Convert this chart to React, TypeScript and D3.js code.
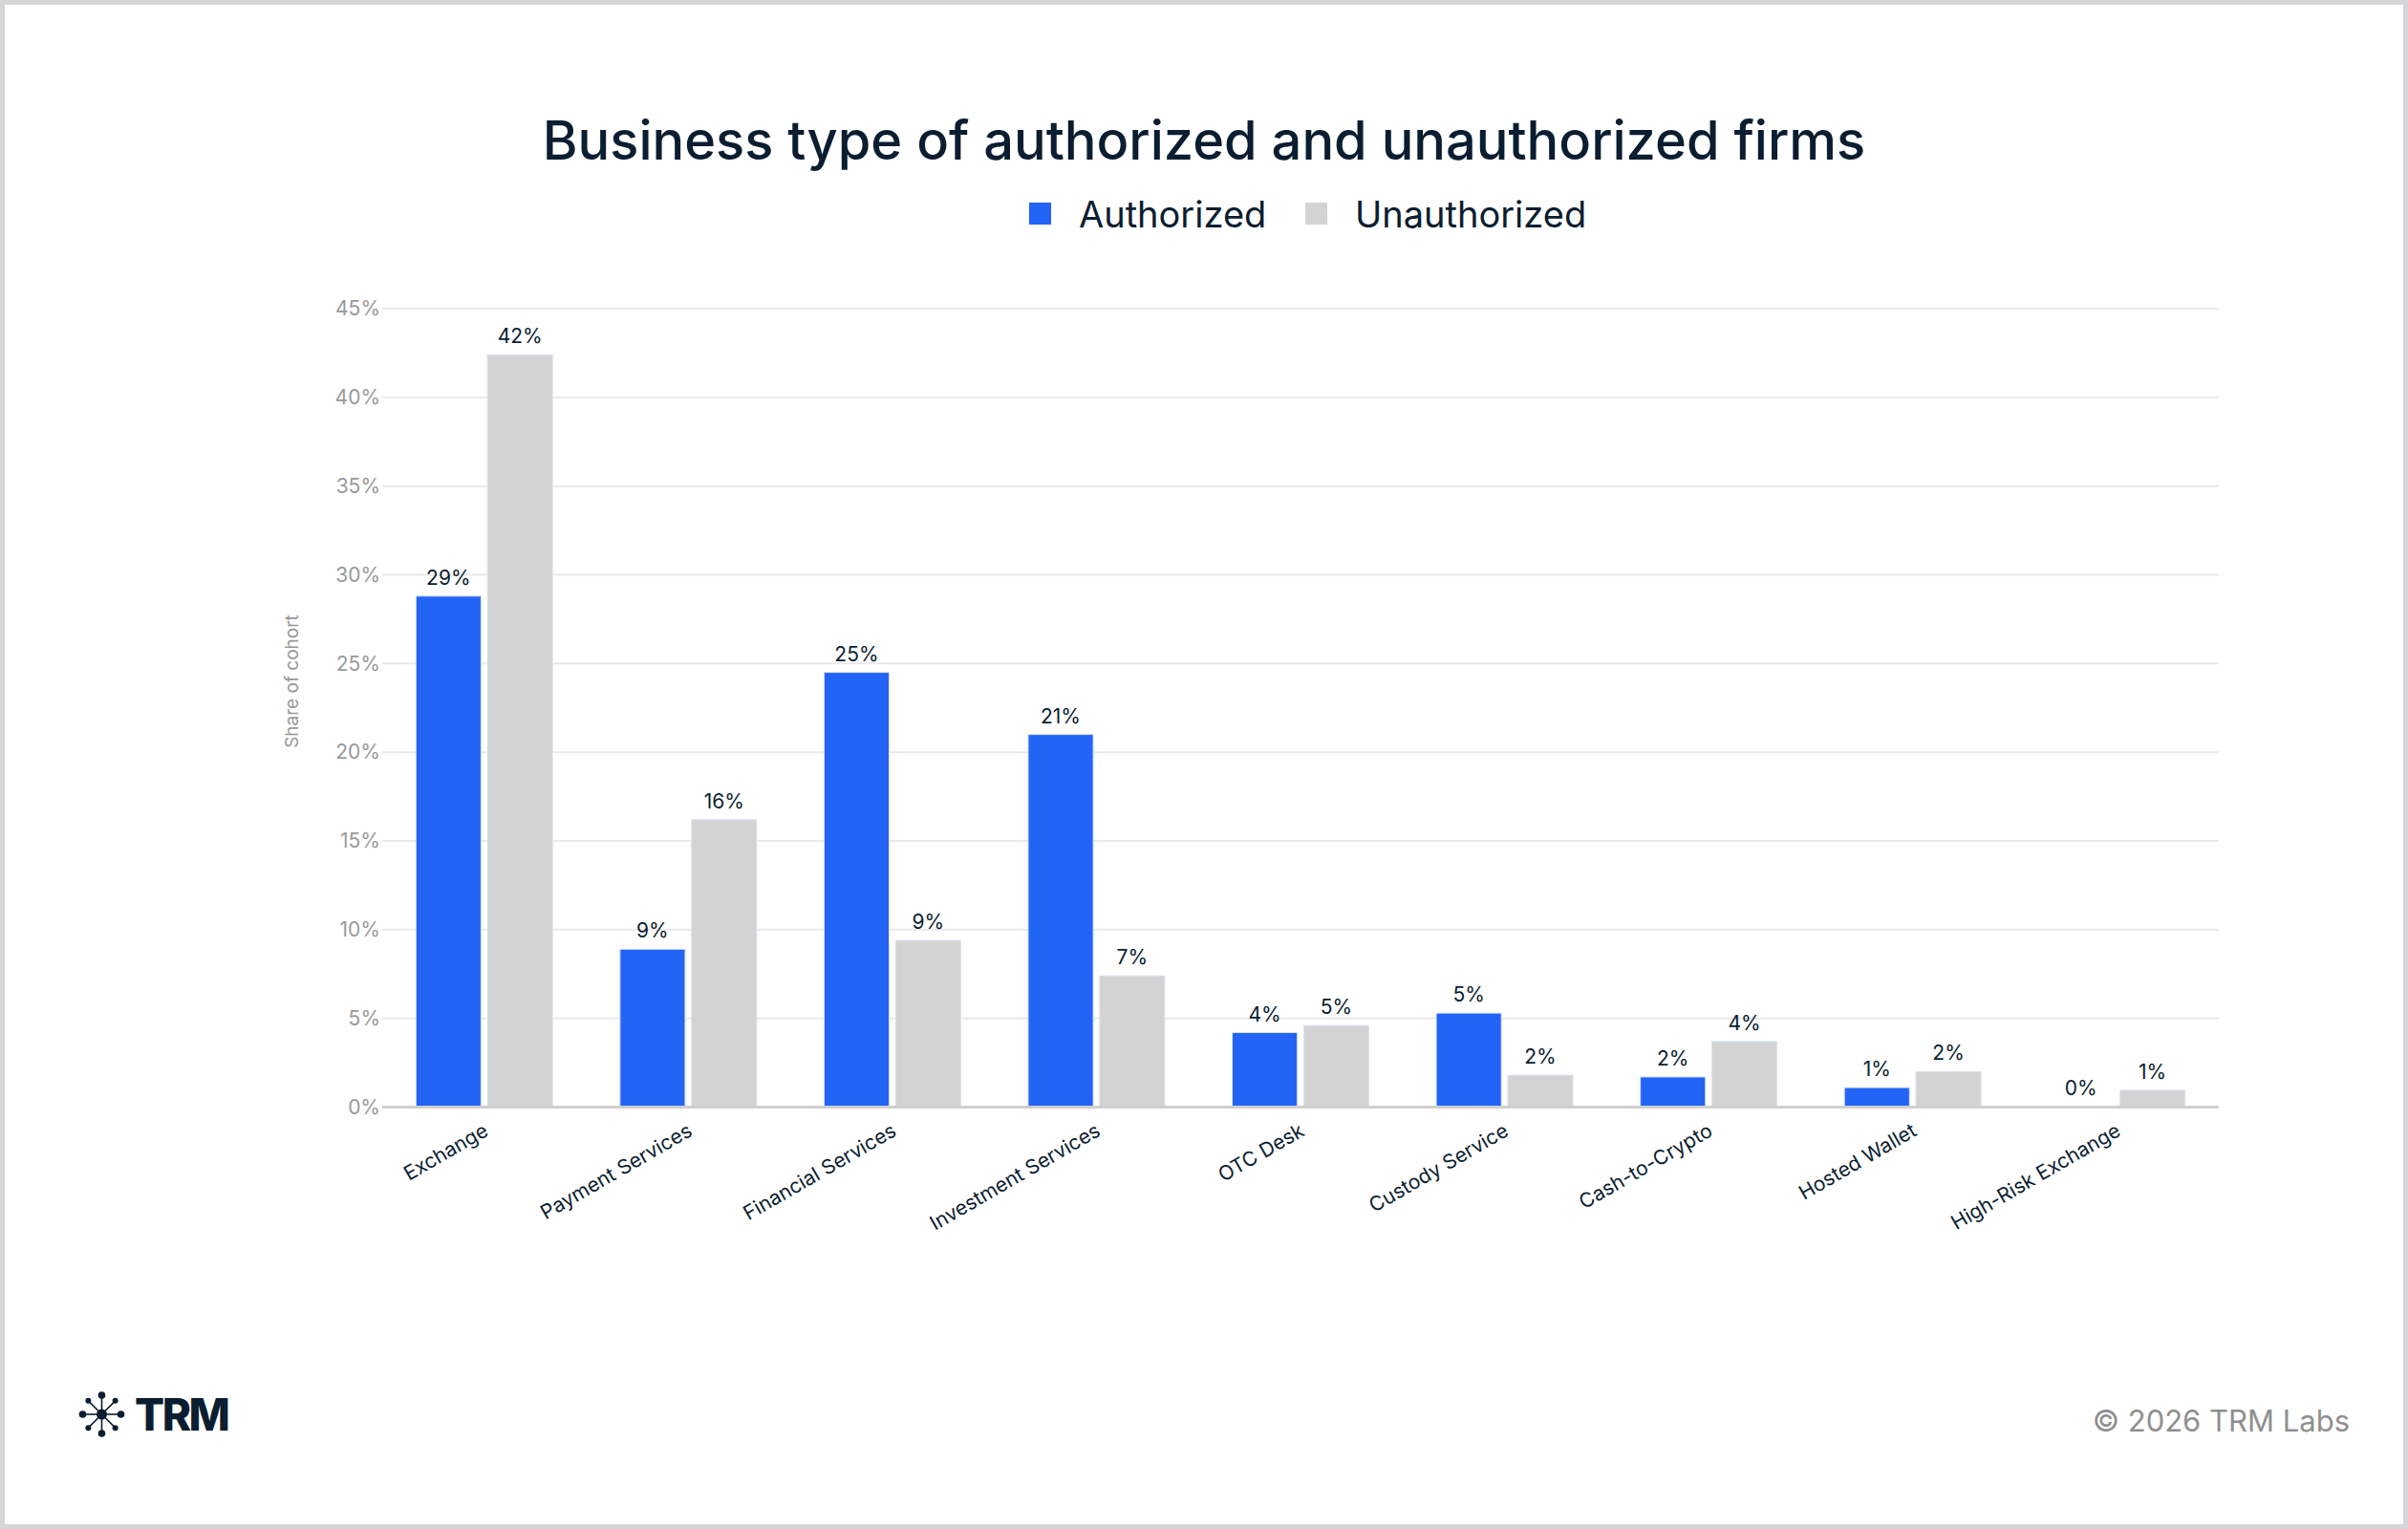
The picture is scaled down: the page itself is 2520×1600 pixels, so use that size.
import { useEffect, useRef } from 'react';
import * as d3 from 'd3';

const categories = [
  'Exchange',
  'Payment Services',
  'Financial Services',
  'Investment Services',
  'OTC Desk',
  'Custody Service',
  'Cash-to-Crypto',
  'Hosted Wallet',
  'High-Risk Exchange',
];
const authorized = [28.8, 8.9, 24.5, 21.0, 4.2, 5.3, 1.7, 1.1, 0.05];
const unauthorized = [42.4, 16.2, 9.4, 7.4, 4.6, 1.8, 3.7, 2.0, 0.95];
const seriesNames = ['Authorized', 'Unauthorized'];
const seriesColors = ['#2264F6', '#D3D3D3'];
const yTicks = [0, 5, 10, 15, 20, 25, 30, 35, 40, 45];

const W = 2520;
const H = 1600;
const FONT = 'Inter, "Noto Sans", sans-serif';
const NAVY = '#0B1D30';

export default function App() {
  const svgRef = useRef<SVGSVGElement>(null);

  useEffect(() => {
    document.body.style.margin = '0';
    const svg = d3.select(svgRef.current);
    svg.selectAll('*').remove();

    const left = 400;
    const right = 2322;
    const top = 323;
    const bottom = 1158.5;

    const x0 = d3.scaleBand<string>()
      .domain(categories)
      .range([left, right])
      .paddingInner(0.3305)
      .paddingOuter(0.3305 / 2);
    const x1 = d3.scaleBand<string>()
      .domain(seriesNames)
      .range([0, x0.bandwidth()])
      .paddingInner(0.09);
    const y = d3.scaleLinear().domain([0, 45]).range([bottom, top]);

    // frame
    svg.append('rect')
      .attr('x', 2.5).attr('y', 2.5)
      .attr('width', W - 5).attr('height', H - 5)
      .attr('fill', '#fff')
      .attr('stroke', '#D6D6D9')
      .attr('stroke-width', 5);

    // title
    svg.append('text')
      .attr('x', 1260).attr('y', 167)
      .attr('text-anchor', 'middle')
      .attr('font-family', FONT)
      .attr('font-size', 56)
      .attr('font-weight', 500)
      .attr('fill', NAVY)
      .text('Business type of authorized and unauthorized firms');

    // legend
    const legendX = [1077, 1366];
    seriesNames.forEach((name, i) => {
      svg.append('rect')
        .attr('x', legendX[i]).attr('y', 212)
        .attr('width', 23).attr('height', 23)
        .attr('fill', seriesColors[i]);
      svg.append('text')
        .attr('x', legendX[i] + 52).attr('y', 238)
        .attr('font-family', FONT)
        .attr('font-size', 38)
        .attr('fill', NAVY)
        .text(name);
    });

    // gridlines + y tick labels
    const grid = svg.append('g');
    grid.selectAll('line')
      .data(yTicks.filter(t => t > 0))
      .enter().append('line')
      .attr('x1', left).attr('x2', right)
      .attr('y1', d => y(d)).attr('y2', d => y(d))
      .attr('stroke', '#E9E9EB')
      .attr('stroke-width', 2);

    const yAxis = svg.append('g')
      .attr('transform', `translate(${left},0)`)
      .call(d3.axisLeft(y).tickValues(yTicks).tickSize(0).tickPadding(2).tickFormat(d => `${d}%`));
    yAxis.select('.domain').remove();
    yAxis.selectAll('text')
      .attr('font-family', FONT)
      .attr('font-size', 21)
      .attr('fill', '#999999');

    svg.append('text')
      .attr('transform', `translate(312,713) rotate(-90)`)
      .attr('text-anchor', 'middle')
      .attr('font-family', FONT)
      .attr('font-size', 19)
      .attr('fill', '#999999')
      .text('Share of cohort');

    // bars
    const values = [authorized, unauthorized];
    const groups = svg.append('g').selectAll('g')
      .data(categories)
      .enter().append('g')
      .attr('transform', d => `translate(${x0(d)},0)`);

    groups.selectAll('rect')
      .data((d, i) => seriesNames.map((s, k) => ({ s, k, v: values[k][i] })))
      .enter().append('rect')
      .attr('x', d => x1(d.s) as number)
      .attr('width', x1.bandwidth())
      .attr('y', d => y(d.v))
      .attr('height', d => bottom - y(d.v))
      .attr('fill', d => seriesColors[d.k])
      .attr('stroke', '#DCE4F2')
      .attr('stroke-width', 1);

    groups.selectAll('text.value')
      .data((d, i) => seriesNames.map((s, k) => ({ s, k, v: values[k][i] })))
      .enter().append('text')
      .attr('class', 'value')
      .attr('x', d => (x1(d.s) as number) + x1.bandwidth() / 2)
      .attr('y', d => y(d.v) - 12)
      .attr('text-anchor', 'middle')
      .attr('font-family', FONT)
      .attr('font-size', 21)
      .attr('fill', NAVY)
      .text(d => `${Math.round(d.v)}%`);

    // baseline
    svg.append('line')
      .attr('x1', left).attr('x2', right)
      .attr('y1', bottom).attr('y2', bottom)
      .attr('stroke', '#CFCFCF')
      .attr('stroke-width', 3);

    // category labels
    svg.append('g').selectAll('text')
      .data(categories)
      .enter().append('text')
      .attr('transform', d => `translate(${(x0(d) as number) + x0.bandwidth() / 2 - 2},${bottom + 16}) rotate(-30)`)
      .attr('text-anchor', 'end')
      .attr('dy', '0.71em')
      .attr('font-family', FONT)
      .attr('font-size', 21)
      .attr('fill', NAVY)
      .text(d => d);

    // footer logo
    const logo = svg.append('g').attr('transform', 'translate(106.5,1480)');
    d3.range(8).forEach(i => {
      const a = (i * Math.PI) / 4;
      const r = 20;
      logo.append('line')
        .attr('x1', 0).attr('y1', 0)
        .attr('x2', r * Math.cos(a)).attr('y2', r * Math.sin(a))
        .attr('stroke', NAVY).attr('stroke-width', 1.6);
      logo.append('circle')
        .attr('cx', r * Math.cos(a)).attr('cy', r * Math.sin(a))
        .attr('r', i % 2 === 0 ? 3.8 : 3)
        .attr('fill', NAVY);
    });
    logo.append('circle').attr('r', 5.5).attr('fill', NAVY);

    svg.append('text')
      .attr('x', 141).attr('y', 1497)
      .attr('font-family', FONT)
      .attr('font-weight', 800)
      .attr('font-size', 46)
      .attr('letter-spacing', -2.5)
      .attr('fill', NAVY)
      .text('TRM');

    svg.append('text')
      .attr('x', 2459).attr('y', 1498)
      .attr('text-anchor', 'end')
      .attr('font-family', FONT)
      .attr('font-size', 31)
      .attr('fill', '#8F8F8F')
      .text('© 2026 TRM Labs');
  }, []);

  return <svg ref={svgRef} width={W} height={H} style={{ display: 'block' }} />;
}
